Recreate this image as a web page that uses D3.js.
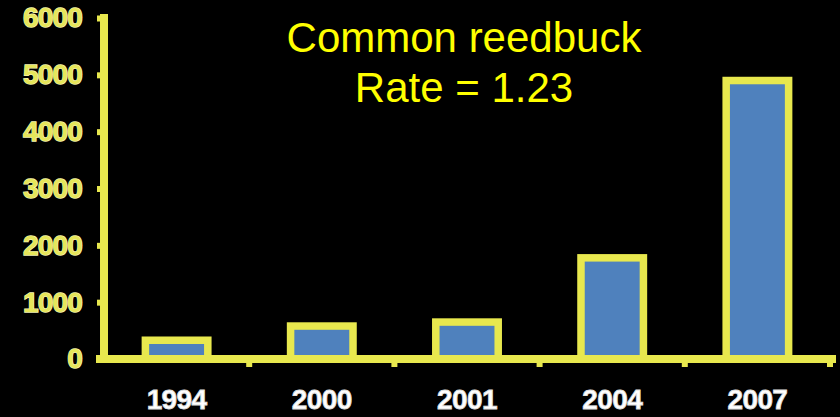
<!DOCTYPE html>
<html><head><meta charset="utf-8">
<script src="https://cdn.jsdelivr.net/npm/d3@7"></script>
<style>
html,body{margin:0;padding:0;background:#000;}
svg{display:block;}
</style></head>
<body>
<script>
const categories = ["1994","2000","2001","2004","2007"];
const values = [330, 580, 650, 1780, 4900];
const yTicks = [0,1000,2000,3000,4000,5000,6000];
const titleLines = ["Common reedbuck","Rate = 1.23"];

const W = 840, H = 417;
const svg = d3.select("body").append("svg").attr("width", W).attr("height", H);
svg.append("rect").attr("width", W).attr("height", H).attr("fill", "#000");

const axisYellow = "#e8e84e";
const x = d3.scaleBand().domain(categories).range([104, 830]).paddingInner(0.57).paddingOuter(0.285);
const y = d3.scaleLinear().domain([0, 6000]).range([359, 18]);

// bars
svg.append("g").selectAll("rect").data(values).join("rect")
  .attr("x", (d,i) => x(categories[i]))
  .attr("y", d => y(d))
  .attr("width", x.bandwidth())
  .attr("height", d => y(0) - y(d))
  .attr("fill", "#4f81bd")
  .attr("stroke", axisYellow)
  .attr("stroke-width", 7.5);

// y axis
const yAxis = svg.append("g").attr("transform", "translate(104,0)")
  .call(d3.axisLeft(y).tickValues(yTicks).tickSize(7).tickPadding(15).tickFormat(d3.format("d")));
yAxis.select(".domain").remove();
yAxis.selectAll(".tick line").attr("stroke", axisYellow).attr("stroke-width", 6);
yAxis.selectAll(".tick text")
  .attr("fill", "#e6e65a").attr("stroke", "#f6f6b4").attr("stroke-width", 1.3)
  .attr("paint-order", "stroke")
  .style("font-family", "Arial, 'Liberation Sans', sans-serif")
  .style("font-weight", "bold").style("font-size", "28px").style("letter-spacing", "-0.8px");
svg.append("line").attr("x1", 104).attr("x2", 104).attr("y1", 14).attr("y2", 363)
  .attr("stroke", axisYellow).attr("stroke-width", 8);

// x axis
svg.append("line").attr("x1", 96).attr("x2", 836).attr("y1", y(0)).attr("y2", y(0))
  .attr("stroke", axisYellow).attr("stroke-width", 8);
const bounds = categories.map(c => x(c) + x.bandwidth() + x.step() * x.paddingInner() / 2);
svg.append("g").selectAll("line").data(bounds).join("line")
  .attr("x1", d => d).attr("x2", d => d)
  .attr("y1", y(0)).attr("y2", y(0) + 8)
  .attr("stroke", axisYellow).attr("stroke-width", 6);
svg.append("g").selectAll("text").data(categories).join("text")
  .attr("x", d => x(d) + x.bandwidth() / 2)
  .attr("y", 409)
  .attr("text-anchor", "middle")
  .attr("fill", "#ffffff").attr("stroke", "#e0e0e0").attr("stroke-width", 0.8)
  .style("font-family", "Arial, 'Liberation Sans', sans-serif")
  .style("font-weight", "bold").style("font-size", "28px").style("letter-spacing", "-0.6px")
  .text(d => d);

// title
svg.append("g").selectAll("text").data(titleLines).join("text")
  .attr("x", 464)
  .attr("y", (d,i) => 52 + i * 50)
  .attr("text-anchor", "middle")
  .attr("fill", "#ffff00")
  .style("font-family", "Arial, 'Liberation Sans', sans-serif")
  .style("font-size", "42px")
  .text(d => d);
</script>
</body></html>
